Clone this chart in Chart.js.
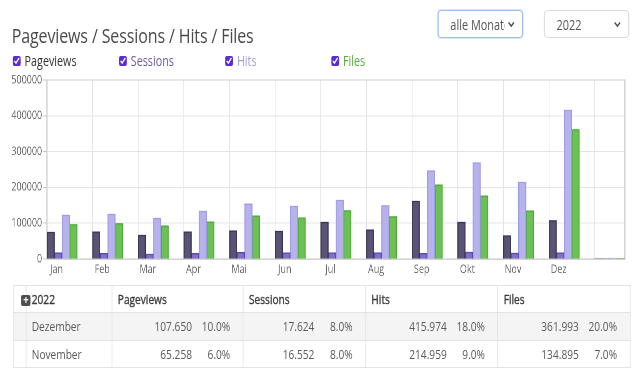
<!DOCTYPE html>
<html lang="de">
<head>
<meta charset="utf-8">
<script src="https://cdn.jsdelivr.net/npm/chart.js@4.4.1/dist/chart.umd.min.js"></script>
<style>
  html, body { margin:0; padding:0; width:640px; height:380px; overflow:hidden; background:#fff; }
  #page { position:absolute; left:0; top:0; width:820px; height:380px; transform:scaleX(0.7805); transform-origin:0 0; font-family:'Open Sans', sans-serif; }
  #title { position:absolute; left:15px; top:22px; font-size:20.5px; color:#4a4a4a; white-space:nowrap; line-height:27px; letter-spacing:-0.15px; }
  .sel { position:absolute; top:10px; height:28px; width:109px; box-sizing:border-box; -webkit-appearance:none; appearance:none;
         border:1px solid #d3d6da; border-radius:4px; background:#fff; font-family:'Open Sans', sans-serif; font-size:14px; color:#555;
         padding:0 22px 0 15px; outline:none;
         background-image:url("data:image/svg+xml,%3Csvg xmlns='http://www.w3.org/2000/svg' width='10' height='8' viewBox='0 0 10 8'%3E%3Cpath d='M1.5 2.5 L5 6 L8.5 2.5' fill='none' stroke='%23444' stroke-width='1.6'/%3E%3C/svg%3E");
         background-repeat:no-repeat; background-position:right 9px center; }
  #selMonth { left:561px; border-color:#8fb4ee; box-shadow:0 0 0 1px rgba(120,160,230,0.25); }
  #selYear { left:697px; }
  #legend { position:absolute; left:16px; top:52px; display:flex; }
  .lg { width:136px; display:flex; align-items:center; font-size:13.8px; line-height:18px; white-space:nowrap; }
  .lg input { width:10.5px; height:10.5px; margin:0 5px 0 0; accent-color:#5b2bd6; }
  #chart { position:absolute; left:0; top:70px; }
  #tbl { position:absolute; left:16.5px; top:284.5px; border-collapse:collapse; table-layout:fixed; width:790px; font-size:13px; color:#5a5a5a; }
  #tbl td, #tbl th { border:1px solid #e1e4e7; padding:0 7px; white-space:nowrap; overflow:visible; }
  #tbl th { font-weight:400; -webkit-text-stroke:0.35px #3a3a3a; color:#3a3a3a; text-align:left; height:26.6px; }
  #tbl td { height:26.7px; }
  #tbl tr.odd td { background:#f4f4f5; }
  #tbl td.num { text-align:right; padding-right:16px; }
  #tbl td.num span.p { display:inline-block; width:49px; text-align:right; }
  .plus { display:inline-block; width:12px; height:10.5px; line-height:10.5px; background:#4d4d4d; color:#fff; -webkit-text-stroke:0; border-radius:2px; font-size:12px; font-weight:700; text-align:center; vertical-align:-0.5px; margin-left:-13.5px; margin-right:1.5px; position:relative; }
</style>
</head>
<body>
<div id="page">
  <div id="title"></div>
  <select class="sel" id="selMonth"></select>
  <select class="sel" id="selYear"></select>
  <div id="legend"></div>
  <canvas id="chart" width="820" height="210"></canvas>
  <table id="tbl"></table>
</div>
<script>
// ---- data ----
const TITLE = 'Pageviews / Sessions / Hits / Files';
const MONTH_OPTIONS = ['alle Monate'];
const YEAR_OPTIONS = ['2022'];
const CATEGORIES = ['Jan','Feb','Mar','Apr','Mai','Jun','Jul','Aug','Sep','Okt','Nov','Dez',''];
const SERIES_NAMES = ['Pageviews','Sessions','Hits','Files'];
const PAGEVIEWS = [75300, 76000, 66900, 76000, 78900, 78000, 103000, 81700, 161700, 103000, 65258, 107650, 1200];
const SESSIONS  = [17600, 15700, 13900, 15700, 18500, 17600, 17600, 17600, 15700, 19500, 16552, 17624, 300];
const HITS      = [122700, 125500, 114300, 133800, 154000, 147800, 164500, 149500, 247000, 269400, 214959, 415974, 2500];
const FILES     = [96500, 99300, 92900, 104000, 120700, 115200, 135600, 118800, 207200, 176500, 134895, 361993, 2000];
const Y_TICKS = [0, 100000, 200000, 300000, 400000, 500000];
const TABLE_YEAR = '2022';
const TABLE_MONTHS = ['Dezember', 'November'];
const TABLE_VALUES = [['107.650','17.624','415.974','361.993'], ['65.258','16.552','214.959','134.895']];
const TABLE_PCTS   = [['10.0%','8.0%','18.0%','20.0%'], ['6.0%','8.0%','9.0%','7.0%']];

// ---- styles ----
const FILL   = ['rgba(82,74,110,0.95)', 'rgba(122,105,196,0.95)', 'rgba(178,175,235,0.95)', 'rgba(100,190,75,0.95)'];
const STROKE = ['#3a3450', '#5c48b0', '#9f9be2', '#4fa83a'];
const LEGEND_TEXT = ['#333333', '#6a59b0', '#a29fdc', '#58ad3c'];

document.getElementById('title').textContent = TITLE;
const sm = document.getElementById('selMonth');
MONTH_OPTIONS.forEach(o => { const op = document.createElement('option'); op.textContent = o; sm.appendChild(op); });
const sy = document.getElementById('selYear');
YEAR_OPTIONS.forEach(o => { const op = document.createElement('option'); op.textContent = o; sy.appendChild(op); });

const lg = document.getElementById('legend');
SERIES_NAMES.forEach((n, i) => {
  const d = document.createElement('label'); d.className = 'lg';
  const cb = document.createElement('input'); cb.type = 'checkbox'; cb.checked = true;
  const s = document.createElement('span'); s.textContent = n; s.style.color = LEGEND_TEXT[i];
  d.appendChild(cb); d.appendChild(s); lg.appendChild(d);
});

// table
const tbl = document.getElementById('tbl');
const cg = document.createElement('colgroup');
[16.2, 110.3, 168, 156.8, 169.6, 169.2].forEach(w => { const c = document.createElement('col'); c.style.width = w + 'px'; cg.appendChild(c); });
tbl.appendChild(cg);
const hr = document.createElement('tr');
const h0 = document.createElement('th'); hr.appendChild(h0);
const h1 = document.createElement('th'); h1.innerHTML = '<span class="plus">+</span>'; h1.appendChild(document.createTextNode(TABLE_YEAR)); hr.appendChild(h1);
SERIES_NAMES.forEach(n => { const th = document.createElement('th'); th.textContent = n; hr.appendChild(th); });
tbl.appendChild(hr);
TABLE_MONTHS.forEach((m, r) => {
  const tr = document.createElement('tr'); if (r % 2 === 0) tr.className = 'odd';
  tr.appendChild(document.createElement('td'));
  const tm = document.createElement('td'); tm.textContent = m; tr.appendChild(tm);
  TABLE_VALUES[r].forEach((v, c) => {
    const td = document.createElement('td'); td.className = 'num';
    const a = document.createElement('span'); a.textContent = v;
    const p = document.createElement('span'); p.className = 'p'; p.textContent = TABLE_PCTS[r][c];
    td.appendChild(a); td.appendChild(p); tr.appendChild(td);
  });
  tbl.appendChild(tr);
});

// chart
const SERIES = [PAGEVIEWS, SESSIONS, HITS, FILES];
const datasets = SERIES.map((d, i) => ({
  label: SERIES_NAMES[i], data: d, backgroundColor: FILL[i], borderColor: STROKE[i], borderWidth: 1.2,
  categoryPercentage: 1, barPercentage: 1
}));
// two empty slots keep each month's group left-aligned in its cell
datasets.push({ label: '', data: [], categoryPercentage: 1, barPercentage: 1 });
datasets.push({ label: '', data: [], categoryPercentage: 1, barPercentage: 1 });

const tickFont = { family: "'Open Sans'", size: 11.5 };
new Chart(document.getElementById('chart'), {
  type: 'bar',
  data: { labels: CATEGORIES, datasets },
  options: {
    responsive: false, animation: false, devicePixelRatio: 2,
    layout: { padding: { top: 10, right: 19.6, bottom: 0, left: 0 } },
    plugins: { legend: { display: false }, tooltip: { enabled: false } },
    scales: {
      x: {
        offset: true,
        grid: { offset: true, color: '#e4e4e4', drawTicks: false },
        border: { color: '#c6c6c6', width: 1.3 },
        ticks: { color: '#666', font: tickFont, padding: 4, labelOffset: -16.8, maxRotation: 0, autoSkip: false },
        afterBuildTicks: s => { s._valueRange = CATEGORIES.length - 0.34; },
        afterFit: s => { s.height = 21; }
      },
      y: {
        min: Y_TICKS[0], max: Y_TICKS[Y_TICKS.length - 1],
        afterBuildTicks: s => { s.ticks = Y_TICKS.map(v => ({ value: v })); },
        ticks: { color: '#666', font: tickFont, padding: 1, callback: v => String(v) },
        grid: { color: ctx => (ctx.tick && ctx.tick.value === Y_TICKS[Y_TICKS.length - 1]) ? '#cfcfcf' : '#e4e4e4', tickLength: 5, tickColor: '#c6c6c6' },
        border: { color: '#c6c6c6', width: 1.3 },
        afterFit: s => { s.width = 60; }
      },
      yRight: {
        position: 'right', display: true,
        grid: { display: false, drawTicks: false },
        ticks: { display: false },
        border: { color: '#c6c6c6', width: 1.3 },
        afterFit: s => { s.width = 0; }
      }
    }
  }
});
</script>
</body>
</html>
